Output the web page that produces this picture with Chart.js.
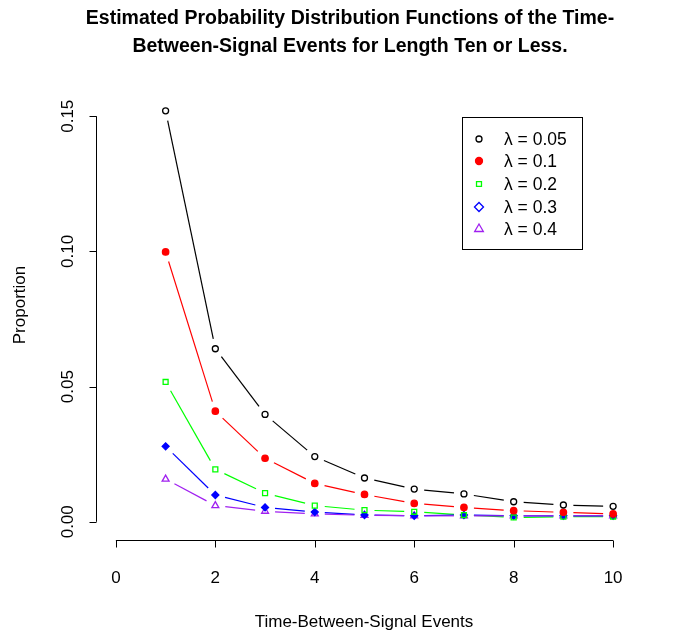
<!DOCTYPE html>
<html>
<head>
<meta charset="utf-8">
<script src="https://cdn.jsdelivr.net/npm/chart.js@4/dist/chart.umd.min.js"></script>
<style>
  body { margin: 0; background: #ffffff; }
</style>
</head>
<body>
<canvas id="myChart" width="680" height="635"></canvas>
<script>
// dati
var lunghezze = [1, 2, 3, 4, 5, 6, 7, 8, 9, 10];
var etichetteLambda = ['λ = 0.05', 'λ = 0.1', 'λ = 0.2', 'λ = 0.3', 'λ = 0.4'];
var lambda005 = [0.152, 0.064, 0.0397, 0.0241, 0.0162, 0.0121, 0.0103, 0.0074, 0.0062, 0.0057];
var lambda01 = [0.0998, 0.0409, 0.0235, 0.0142, 0.0101, 0.0068, 0.0053, 0.0041, 0.0035, 0.0029];
var lambda02 = [0.0517, 0.0194, 0.0106, 0.0060, 0.0043, 0.0037, 0.0025, 0.0016, 0.0019, 0.0019];
var lambda03 = [0.0279, 0.0099, 0.0053, 0.0036, 0.0025, 0.0022, 0.0025, 0.0022, 0.0022, 0.0022];
var lambda04 = [0.0158, 0.0060, 0.0039, 0.0029, 0.0024, 0.0022, 0.0022, 0.0022, 0.0022, 0.0022];
var xTicks = [0, 2, 4, 6, 8, 10];
var yTicks = [0, 0.05, 0.10, 0.15];
var yTickLabels = ['0.00', '0.05', '0.10', '0.15'];

var font = '"Liberation Sans", Arial, Helvetica, sans-serif';

function punti(valori) {
  var out = [];
  for (var i = 0; i < lunghezze.length; i++) {
    out.push({ x: lunghezze[i], y: valori[i] });
  }
  return out;
}

var stili = [
  { colore: '#000000', forma: 'circle', pieno: false, r: 3, rLeg: 3 },
  { colore: '#ff0000', forma: 'circle', pieno: true, r: 3.2, rLeg: 3.5 },
  { colore: '#00ff00', forma: 'rect', pieno: false, r: 3.5, rLeg: 3.5 },
  { colore: '#0000ff', forma: 'rectRot', pieno: true, r: 3.5, rLeg: 4.5 },
  { colore: '#a020f0', forma: 'triangle', pieno: false, r: 4, rLeg: 5 }
];
var serie = [lambda005, lambda01, lambda02, lambda03, lambda04];

var datasets = [];
for (var s = 0; s < serie.length; s++) {
  datasets.push({
    label: etichetteLambda[s],
    data: punti(serie[s]),
    showLine: false,
    borderColor: stili[s].colore,
    backgroundColor: stili[s].pieno ? stili[s].colore : 'rgba(0,0,0,0)',
    pointStyle: stili[s].forma,
    pointRadius: stili[s].r,
    pointBorderWidth: 1.3,
    pointHoverRadius: stili[s].r
  });
}

// linee tipo "b" di R: segmenti con uno spazio attorno ai punti
var lineeSpezzate = {
  id: 'lineeSpezzate',
  beforeDatasetsDraw: function(chart) {
    var ctx = chart.ctx;
    var gap = 10;
    ctx.save();
    for (var d = 0; d < chart.data.datasets.length; d++) {
      var meta = chart.getDatasetMeta(d);
      ctx.strokeStyle = chart.data.datasets[d].borderColor;
      ctx.lineWidth = 1.2;
      for (var i = 0; i < meta.data.length - 1; i++) {
        var p0 = meta.data[i], p1 = meta.data[i + 1];
        var dx = p1.x - p0.x, dy = p1.y - p0.y;
        var len = Math.sqrt(dx * dx + dy * dy);
        if (len <= 2 * gap) continue;
        var ux = dx / len, uy = dy / len;
        ctx.beginPath();
        ctx.moveTo(p0.x + ux * gap, p0.y + uy * gap);
        ctx.lineTo(p1.x - ux * gap, p1.y - uy * gap);
        ctx.stroke();
      }
    }
    ctx.restore();
  }
};

// assi, titoli e legenda in stile R
var assiR = {
  id: 'assiR',
  beforeDraw: function(chart) {
    var ctx = chart.ctx;
    ctx.save();
    ctx.fillStyle = '#ffffff';
    ctx.fillRect(0, 0, chart.width, chart.height);
    ctx.restore();
  },
  afterDraw: function(chart) {
    var ctx = chart.ctx;
    var xs = chart.scales.x, ys = chart.scales.y;
    ctx.save();
    ctx.strokeStyle = '#000000';
    ctx.fillStyle = '#000000';
    ctx.lineWidth = 1;

    // asse x
    var yAsse = 540.5;
    ctx.beginPath();
    ctx.moveTo(xs.getPixelForValue(xTicks[0]), yAsse);
    ctx.lineTo(xs.getPixelForValue(xTicks[xTicks.length - 1]), yAsse);
    for (var i = 0; i < xTicks.length; i++) {
      var px = Math.round(xs.getPixelForValue(xTicks[i])) + 0.5;
      ctx.moveTo(px, yAsse);
      ctx.lineTo(px, yAsse + 7);
    }
    ctx.stroke();
    ctx.font = '17px ' + font;
    ctx.textAlign = 'center';
    ctx.textBaseline = 'middle';
    for (var i = 0; i < xTicks.length; i++) {
      ctx.fillText(String(xTicks[i]), xs.getPixelForValue(xTicks[i]), 578);
    }

    // asse y
    var xAsse = 96.5;
    ctx.beginPath();
    ctx.moveTo(xAsse, ys.getPixelForValue(yTicks[0]));
    ctx.lineTo(xAsse, ys.getPixelForValue(yTicks[yTicks.length - 1]));
    for (var j = 0; j < yTicks.length; j++) {
      var py = Math.round(ys.getPixelForValue(yTicks[j])) + 0.5;
      ctx.moveTo(xAsse, py);
      ctx.lineTo(xAsse - 7, py);
    }
    ctx.stroke();
    for (var j = 0; j < yTicks.length; j++) {
      ctx.save();
      ctx.translate(68, ys.getPixelForValue(yTicks[j]));
      ctx.rotate(-Math.PI / 2);
      ctx.fillText(yTickLabels[j], 0, 0);
      ctx.restore();
    }

    // titoli degli assi
    ctx.fillText('Time-Between-Signal Events', 364, 622);
    ctx.save();
    ctx.translate(20, 305);
    ctx.rotate(-Math.PI / 2);
    ctx.fillText('Proportion', 0, 0);
    ctx.restore();

    // titolo
    ctx.font = 'bold 19.5px ' + font;
    ctx.fillText('Estimated Probability Distribution Functions of the Time-', 350, 19);
    ctx.fillText('Between-Signal Events for Length Ten or Less.', 350, 47);

    // legenda
    ctx.lineWidth = 1;
    ctx.strokeRect(462.5, 117.5, 120, 132);
    ctx.font = '17.5px ' + font;
    ctx.textAlign = 'left';
    var righe = [139, 161, 184, 207, 229];
    for (var k = 0; k < chart.data.datasets.length; k++) {
      var st = stili[k];
      ctx.strokeStyle = st.colore;
      ctx.fillStyle = (k === 1) ? st.colore : 'rgba(0,0,0,0)';
      ctx.lineWidth = 1.3;
      Chart.helpers.drawPoint(ctx, {
        pointStyle: st.forma,
        radius: st.rLeg,
        borderWidth: 1.3,
        rotation: 0
      }, 479, righe[k]);
      ctx.fillStyle = '#000000';
      ctx.fillText(chart.data.datasets[k].label, 504, righe[k] + 1);
    }
    ctx.restore();
  }
};

var ctx = document.getElementById('myChart');
var chart = new Chart(ctx, {
  type: 'scatter',
  data: { datasets: datasets },
  options: {
    responsive: false,
    animation: false,
    layout: { padding: { left: 96, right: 47, top: 100, bottom: 97 } },
    scales: {
      x: { type: 'linear', min: -0.4, max: 10.4, display: false },
      y: { type: 'linear', min: -0.006, max: 0.156, display: false }
    },
    plugins: {
      legend: { display: false },
      title: { display: false },
      tooltip: { enabled: false }
    }
  },
  plugins: [lineeSpezzate, assiR]
});
</script>
</body>
</html>
